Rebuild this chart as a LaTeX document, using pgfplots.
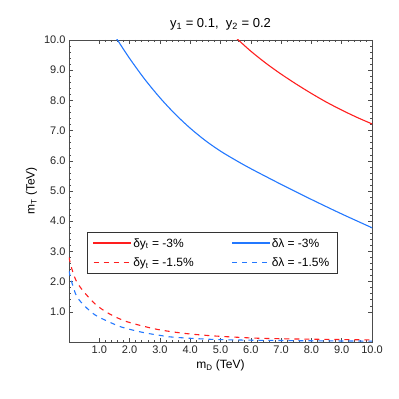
\documentclass[border=0pt]{standalone}
\usepackage{fontspec}
\setmainfont{Liberation Sans}
\usepackage{pgfplots}
\pgfplotsset{compat=1.18}
\definecolor{myred}{RGB}{255,30,30}
\definecolor{myblue}{RGB}{35,120,255}
\begin{document}
\begin{tikzpicture}
\begin{axis}[name=ax, at={(0,0)}, anchor=south west,
  scale only axis, width=303pt, height=302pt,
  xmin=0, xmax=10, ymin=0, ymax=10,
  xtick={1,...,10}, ytick={1,...,10},
  minor tick num=4,
  tick align=inside,
  major tick length=4pt, minor tick length=2pt,
  every tick/.style={black!70, line width=0.5pt},
  axis line style={black!70, line width=0.8pt},
  tick label style={font=\fontsize{11}{13}\selectfont, text=black!85},
  /pgf/number format/fixed, /pgf/number format/fixed zerofill,
  /pgf/number format/precision=1, /pgf/number format/assume math mode=true,
  title={y\textsubscript{1} = 0.1,\ \ y\textsubscript{2} = 0.2},
  title style={font=\fontsize{13}{15}\selectfont},
  xlabel={m\textsubscript{D} (TeV)},
  ylabel={m\textsubscript{T} (TeV)},
  label style={font=\fontsize{12}{14}\selectfont},
  legend columns=2,
  legend cell align=left,
  legend style={at={(rel axis cs:0.059,0.364)}, anchor=north west,
    draw=black!80, line width=0.6pt, font=\fontsize{12}{14}\selectfont,
    inner xsep=6pt, inner ysep=4pt, row sep=5pt,
    /tikz/every even column/.append style={column sep=36pt}},
  legend image code/.code={\draw[#1] (0pt,0pt) -- (37pt,0pt);},
]
% delta y_t = -3%
\addplot[myred, line width=1.1pt, smooth,
  legend image code/.code={\fill[myred] (0pt,-0.45pt) rectangle (37pt,0.45pt);}] coordinates {
(5.53,10.06) (5.59,10) (6.0,9.63) (6.5,9.23) (7.0,8.87) (7.5,8.54) (8.0,8.23)
(8.5,7.94) (9.0,7.68) (9.5,7.44) (10.05,7.2)};
\addlegendentry{δy\textsubscript{t} = -3\%}
% delta lambda = -3%
\addplot[myblue, line width=1.1pt, smooth,
  legend image code/.code={\fill[myblue] (0pt,-0.45pt) rectangle (37pt,0.45pt);}] coordinates {
(1.55,10.08) (1.6,10) (2.0,9.39) (2.5,8.70) (3.0,8.09) (3.5,7.55) (4.0,7.08)
(4.5,6.67) (5.0,6.32) (5.5,6.02) (6.0,5.74) (7.0,5.22) (8.0,4.72) (9.0,4.24) (10.05,3.76)};
\addlegendentry{δλ = -3\%}
% delta y_t = -1.5%
\addplot[myred, line width=1.1pt, dash pattern=on 5pt off 5pt, smooth, tension=0.5] coordinates {
(0,2.8) (0.1,2.4) (0.25,2.0) (0.5,1.65) (0.87,1.25) (1.25,0.98) (1.64,0.78) (2.05,0.63)
(2.9,0.42) (3.77,0.29) (4.65,0.21) (5.5,0.16) (6.4,0.12) (8.2,0.09) (10,0.07)};
\addlegendentry{δy\textsubscript{t} = -1.5\%}
% delta lambda = -1.5%
\addplot[myblue, line width=1.1pt, dash pattern=on 5pt off 5pt, smooth, tension=0.5] coordinates {
(0,2.35) (0.1,1.95) (0.26,1.5) (0.54,1.17) (0.87,0.89) (1.31,0.67) (1.69,0.51) (2.08,0.4)
(2.52,0.3) (3.0,0.22) (3.44,0.16) (4.65,0.09) (6,0.06) (8,0.04) (10,0.03)};
\addlegendentry{δλ = -1.5\%}
\end{axis}
\pgfresetboundingbox
\path[use as bounding box] (ax.south west) ++(-69pt,-57pt) rectangle ++(399pt,399pt);
\end{tikzpicture}
\end{document}
